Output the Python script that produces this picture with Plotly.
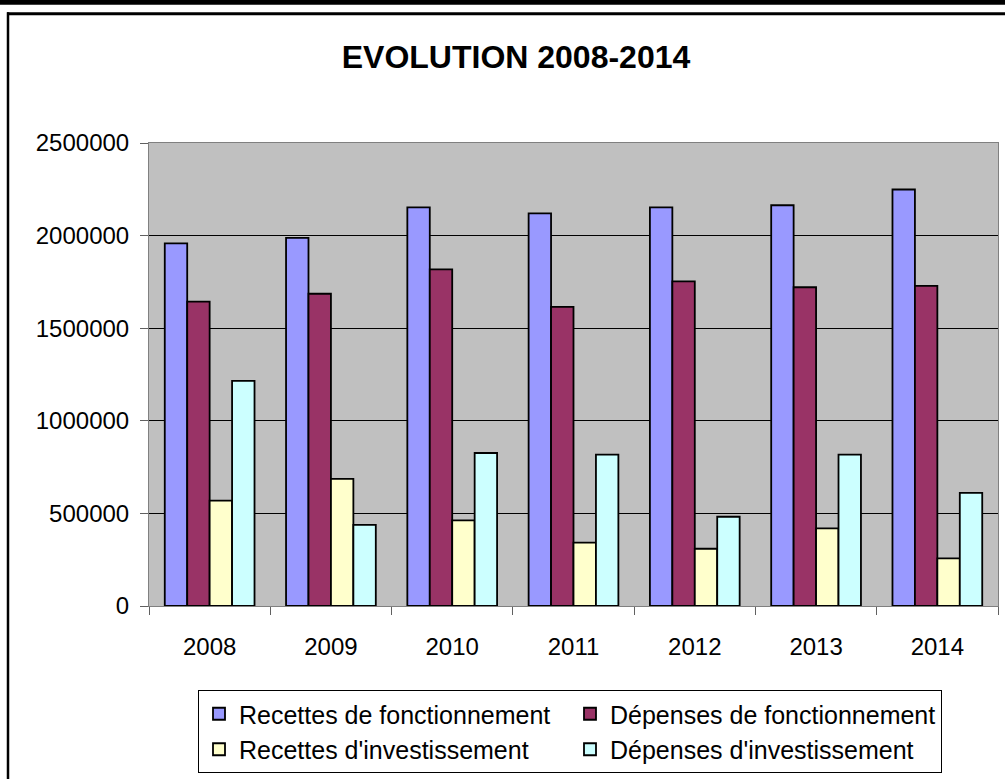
import plotly.graph_objects as go

years = ["2008", "2009", "2010", "2011", "2012", "2013", "2014"]
recettes_fonct = [1958000, 1988000, 2152000, 2120000, 2152000, 2164000, 2249000]
depenses_fonct = [1643000, 1686000, 1818000, 1615000, 1753000, 1721000, 1729000]
recettes_invest = [569000, 686000, 462000, 342000, 309000, 419000, 257000]
depenses_invest = [1216000, 438000, 826000, 817000, 482000, 817000, 611000]

series = [
    ("Recettes de fonctionnement", recettes_fonct, "#9999FF"),
    ("Dépenses de fonctionnement", depenses_fonct, "#993366"),
    ("Recettes d'investissement", recettes_invest, "#FFFFCC"),
    ("Dépenses d'investissement", depenses_invest, "#CCFFFF"),
]

W, H = 1005, 779
L, R, T, B = 149, 7, 143, 172
PW, PH = W - L - R, H - T - B


def px(x):
    return (x - L) / PW


def py(y):
    return (H - B - y) / PH


fig = go.Figure()
for name, vals, color in series:
    fig.add_trace(go.Bar(
        x=years, y=vals, name=name,
        marker=dict(color=color, line=dict(color="black", width=1.8)),
    ))

font = "Arial, Liberation Sans, sans-serif"

fig.update_layout(
    width=W, height=H,
    margin=dict(l=L, r=R, t=T, b=B, pad=0),
    paper_bgcolor="white",
    plot_bgcolor="#C0C0C0",
    barmode="group",
    bargap=0.26,
    bargroupgap=0,
    font=dict(family=font, color="black", size=24),
    title=dict(
        text="<b>EVOLUTION 2008-2014</b>",
        x=516 / W, xref="container", xanchor="center",
        y=1 - 57 / H, yref="container", yanchor="middle",
        font=dict(family=font, size=32, color="black"),
    ),
    xaxis=dict(
        type="category",
        showgrid=False,
        showline=True, linecolor="#808080", linewidth=1, mirror=True,
        ticks="outside", tickson="boundaries", ticklen=8, tickcolor="#606060",
        tickfont=dict(size=24, family=font, color="black"),
        ticklabelstandoff=19,
    ),
    yaxis=dict(
        range=[0, 2500000],
        tickvals=[0, 500000, 1000000, 1500000, 2000000, 2500000],
        ticktext=["0", "500000", "1000000", "1500000", "2000000", "2500000"],
        showgrid=True, gridcolor="black", gridwidth=1,
        zeroline=False,
        showline=True, linecolor="#808080", linewidth=1, mirror=True,
        ticks="outside", ticklen=8, tickcolor="#606060",
        tickfont=dict(size=24, family=font, color="black"),
        ticklabelstandoff=6,
    ),
    legend=dict(
        orientation="h",
        x=px(198), xanchor="left", xref="paper",
        y=py(690), yanchor="top", yref="paper",
        bgcolor="white", bordercolor="black", borderwidth=1,
        font=dict(size=25, family=font, color="black"),
        entrywidth=326, entrywidthmode="pixels",
        traceorder="normal",
    ),
    shapes=[
        dict(type="rect", xref="paper", yref="paper",
             x0=px(-5), x1=px(W + 5), y0=py(-5), y1=py(4.5),
             fillcolor="black", line=dict(width=0), layer="above"),
        dict(type="line", xref="paper", yref="paper",
             x0=px(7), x1=px(W + 5), y0=py(13.5), y1=py(13.5),
             line=dict(color="black", width=3), layer="above"),
        dict(type="line", xref="paper", yref="paper",
             x0=px(8), x1=px(8), y0=py(12), y1=py(H + 5),
             line=dict(color="black", width=2.5), layer="above"),
    ],
)

fig.write_html(
    "out.html",
    config={"displayModeBar": False},
    post_script="document.body.style.margin='0';document.body.style.padding='0';",
)
